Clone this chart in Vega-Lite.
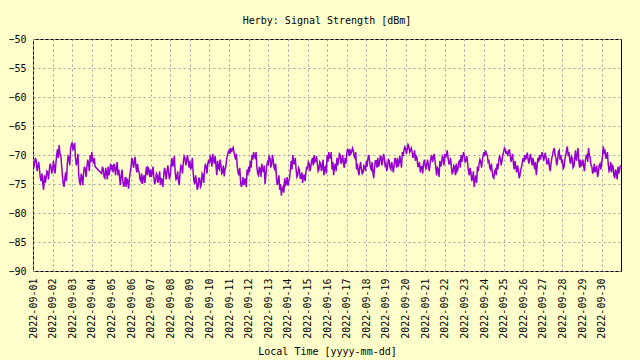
{
"$schema": "https://vega.github.io/schema/vega-lite/v6.json",
"width": 588, "height": 232,
"autosize": {"type": "none"},
"padding": {"left": 33, "top": 39, "right": 19, "bottom": 89},
"background": "#ffffcc",
"title": {"text": "Herby: Signal Strength [dBm]", "font": "DejaVu Sans Mono", "fontSize": 10, "fontWeight": "normal", "color": "black", "offset": 8, "anchor": "middle"},
"datasets": {"d": [
{"t":"2022-09-01T00:00","v":-71},{"t":"2022-09-01T02:00","v":-71.3},{"t":"2022-09-01T04:00","v":-71},{"t":"2022-09-01T06:00","v":-72},{"t":"2022-09-01T08:00","v":-72.5},{"t":"2022-09-01T10:00","v":-74.5},{"t":"2022-09-01T12:00","v":-75},{"t":"2022-09-01T14:00","v":-73.5},{"t":"2022-09-01T16:00","v":-74},{"t":"2022-09-01T18:00","v":-73},{"t":"2022-09-01T20:00","v":-72.5},{"t":"2022-09-01T22:00","v":-72},
{"t":"2022-09-02T00:00","v":-72.5},{"t":"2022-09-02T02:00","v":-72},{"t":"2022-09-02T04:00","v":-71.5},{"t":"2022-09-02T06:00","v":-69},{"t":"2022-09-02T08:00","v":-68.3},{"t":"2022-09-02T10:00","v":-70},{"t":"2022-09-02T12:00","v":-73.5},{"t":"2022-09-02T14:00","v":-75.5},{"t":"2022-09-02T16:00","v":-73},{"t":"2022-09-02T18:00","v":-71.5},{"t":"2022-09-02T20:00","v":-70.5},{"t":"2022-09-02T22:00","v":-69},
{"t":"2022-09-03T00:00","v":-67.8},{"t":"2022-09-03T02:00","v":-68.5},{"t":"2022-09-03T04:00","v":-70.5},{"t":"2022-09-03T06:00","v":-71},{"t":"2022-09-03T08:00","v":-73.5},{"t":"2022-09-03T10:00","v":-75},{"t":"2022-09-03T12:00","v":-74},{"t":"2022-09-03T14:00","v":-73},{"t":"2022-09-03T16:00","v":-72.5},{"t":"2022-09-03T18:00","v":-72},{"t":"2022-09-03T20:00","v":-71.5},{"t":"2022-09-03T22:00","v":-70},
{"t":"2022-09-04T00:00","v":-69.5},{"t":"2022-09-04T02:00","v":-71.5},{"t":"2022-09-04T04:00","v":-72},{"t":"2022-09-04T12:00","v":-73.2},{"t":"2022-09-04T14:00","v":-72.5},{"t":"2022-09-04T16:00","v":-74},{"t":"2022-09-04T18:00","v":-73},{"t":"2022-09-04T20:00","v":-72},{"t":"2022-09-04T22:00","v":-72.8},
{"t":"2022-09-05T00:00","v":-72.5},{"t":"2022-09-05T02:00","v":-73},{"t":"2022-09-05T04:00","v":-72},{"t":"2022-09-05T06:00","v":-72.2},{"t":"2022-09-05T08:00","v":-73.5},{"t":"2022-09-05T10:00","v":-74},{"t":"2022-09-05T12:00","v":-73.5},{"t":"2022-09-05T14:00","v":-74.5},{"t":"2022-09-05T16:00","v":-75},{"t":"2022-09-05T18:00","v":-75.5},{"t":"2022-09-05T20:00","v":-74.5},{"t":"2022-09-05T22:00","v":-74},
{"t":"2022-09-06T00:00","v":-72},{"t":"2022-09-06T02:00","v":-71},{"t":"2022-09-06T04:00","v":-71.3},{"t":"2022-09-06T06:00","v":-72},{"t":"2022-09-06T08:00","v":-71.5},{"t":"2022-09-06T10:00","v":-73},{"t":"2022-09-06T12:00","v":-74.5},{"t":"2022-09-06T14:00","v":-75},{"t":"2022-09-06T16:00","v":-73.5},{"t":"2022-09-06T18:00","v":-73},{"t":"2022-09-06T20:00","v":-73.5},{"t":"2022-09-06T22:00","v":-72.5},
{"t":"2022-09-07T00:00","v":-72.5},{"t":"2022-09-07T02:00","v":-73},{"t":"2022-09-07T04:00","v":-74},{"t":"2022-09-07T06:00","v":-74.5},{"t":"2022-09-07T08:00","v":-73.5},{"t":"2022-09-07T10:00","v":-74},{"t":"2022-09-07T12:00","v":-75.2},{"t":"2022-09-07T14:00","v":-74.5},{"t":"2022-09-07T16:00","v":-73.5},{"t":"2022-09-07T18:00","v":-73},{"t":"2022-09-07T20:00","v":-72.8},{"t":"2022-09-07T22:00","v":-73},
{"t":"2022-09-08T00:00","v":-73.5},{"t":"2022-09-08T02:00","v":-70.5},{"t":"2022-09-08T04:00","v":-71.5},{"t":"2022-09-08T06:00","v":-73},{"t":"2022-09-08T08:00","v":-74},{"t":"2022-09-08T10:00","v":-74.5},{"t":"2022-09-08T12:00","v":-73},{"t":"2022-09-08T14:00","v":-72},{"t":"2022-09-08T16:00","v":-71.2},{"t":"2022-09-08T18:00","v":-70.5},{"t":"2022-09-08T20:00","v":-71},{"t":"2022-09-08T22:00","v":-71},
{"t":"2022-09-09T00:00","v":-71},{"t":"2022-09-09T02:00","v":-72},{"t":"2022-09-09T04:00","v":-73},{"t":"2022-09-09T06:00","v":-75},{"t":"2022-09-09T08:00","v":-74.5},{"t":"2022-09-09T10:00","v":-75.5},{"t":"2022-09-09T12:00","v":-74},{"t":"2022-09-09T14:00","v":-75.2},{"t":"2022-09-09T16:00","v":-73.5},{"t":"2022-09-09T18:00","v":-72.5},{"t":"2022-09-09T20:00","v":-72},{"t":"2022-09-09T22:00","v":-71.5},
{"t":"2022-09-10T00:00","v":-71.5},{"t":"2022-09-10T02:00","v":-70.5},{"t":"2022-09-10T04:00","v":-69.8},{"t":"2022-09-10T06:00","v":-71.5},{"t":"2022-09-10T08:00","v":-72},{"t":"2022-09-10T10:00","v":-71},{"t":"2022-09-10T12:00","v":-72.5},{"t":"2022-09-10T14:00","v":-71.8},{"t":"2022-09-10T16:00","v":-73},{"t":"2022-09-10T18:00","v":-73.7},{"t":"2022-09-10T20:00","v":-72},{"t":"2022-09-10T22:00","v":-70},
{"t":"2022-09-11T00:00","v":-69.2},{"t":"2022-09-11T02:00","v":-68.8},{"t":"2022-09-11T04:00","v":-69},{"t":"2022-09-11T06:00","v":-69.5},{"t":"2022-09-11T08:00","v":-70.8},{"t":"2022-09-11T10:00","v":-72},{"t":"2022-09-11T12:00","v":-73.5},{"t":"2022-09-11T14:00","v":-74.5},{"t":"2022-09-11T16:00","v":-75},{"t":"2022-09-11T18:00","v":-75.2},{"t":"2022-09-11T20:00","v":-74},{"t":"2022-09-11T22:00","v":-72.5},
{"t":"2022-09-12T00:00","v":-72},{"t":"2022-09-12T02:00","v":-71},{"t":"2022-09-12T04:00","v":-70},{"t":"2022-09-12T06:00","v":-69.5},{"t":"2022-09-12T08:00","v":-70.5},{"t":"2022-09-12T10:00","v":-72},{"t":"2022-09-12T12:00","v":-73.5},{"t":"2022-09-12T14:00","v":-72.5},{"t":"2022-09-12T16:00","v":-71.5},{"t":"2022-09-12T18:00","v":-73},{"t":"2022-09-12T20:00","v":-75},{"t":"2022-09-12T22:00","v":-72},
{"t":"2022-09-13T00:00","v":-71.5},{"t":"2022-09-13T02:00","v":-70.5},{"t":"2022-09-13T04:00","v":-71.8},{"t":"2022-09-13T06:00","v":-70.8},{"t":"2022-09-13T08:00","v":-72.5},{"t":"2022-09-13T10:00","v":-74},{"t":"2022-09-13T12:00","v":-74.5},{"t":"2022-09-13T14:00","v":-76},{"t":"2022-09-13T16:00","v":-77},{"t":"2022-09-13T18:00","v":-75.5},{"t":"2022-09-13T20:00","v":-74},{"t":"2022-09-13T22:00","v":-75},
{"t":"2022-09-14T00:00","v":-75.3},{"t":"2022-09-14T02:00","v":-74},{"t":"2022-09-14T04:00","v":-71},{"t":"2022-09-14T06:00","v":-70},{"t":"2022-09-14T08:00","v":-71.5},{"t":"2022-09-14T10:00","v":-72.5},{"t":"2022-09-14T12:00","v":-73.5},{"t":"2022-09-14T14:00","v":-72.5},{"t":"2022-09-14T16:00","v":-74},{"t":"2022-09-14T18:00","v":-74.8},{"t":"2022-09-14T20:00","v":-73.5},{"t":"2022-09-14T22:00","v":-73},
{"t":"2022-09-15T00:00","v":-72.5},{"t":"2022-09-15T02:00","v":-71.5},{"t":"2022-09-15T04:00","v":-72},{"t":"2022-09-15T06:00","v":-70.5},{"t":"2022-09-15T08:00","v":-70},{"t":"2022-09-15T10:00","v":-71},{"t":"2022-09-15T12:00","v":-71.5},{"t":"2022-09-15T14:00","v":-72.5},{"t":"2022-09-15T16:00","v":-71.5},{"t":"2022-09-15T18:00","v":-72},{"t":"2022-09-15T20:00","v":-73.5},{"t":"2022-09-15T22:00","v":-72},
{"t":"2022-09-16T00:00","v":-70},{"t":"2022-09-16T02:00","v":-69.5},{"t":"2022-09-16T04:00","v":-70.5},{"t":"2022-09-16T06:00","v":-72.5},{"t":"2022-09-16T08:00","v":-73.5},{"t":"2022-09-16T10:00","v":-71.5},{"t":"2022-09-16T12:00","v":-70.5},{"t":"2022-09-16T14:00","v":-71},{"t":"2022-09-16T16:00","v":-70},{"t":"2022-09-16T18:00","v":-71},{"t":"2022-09-16T20:00","v":-71.5},{"t":"2022-09-16T22:00","v":-70.5},
{"t":"2022-09-17T00:00","v":-69.8},{"t":"2022-09-17T02:00","v":-69.3},{"t":"2022-09-17T04:00","v":-69},{"t":"2022-09-17T06:00","v":-69.5},{"t":"2022-09-17T08:00","v":-69.2},{"t":"2022-09-17T10:00","v":-70.5},{"t":"2022-09-17T12:00","v":-72.5},{"t":"2022-09-17T14:00","v":-72.8},{"t":"2022-09-17T16:00","v":-72},{"t":"2022-09-17T18:00","v":-72.5},{"t":"2022-09-17T20:00","v":-73},{"t":"2022-09-17T22:00","v":-72},
{"t":"2022-09-18T00:00","v":-71},{"t":"2022-09-18T02:00","v":-70.5},{"t":"2022-09-18T04:00","v":-71},{"t":"2022-09-18T06:00","v":-72.5},{"t":"2022-09-18T08:00","v":-73},{"t":"2022-09-18T10:00","v":-72.2},{"t":"2022-09-18T12:00","v":-71},{"t":"2022-09-18T14:00","v":-70.5},{"t":"2022-09-18T16:00","v":-71.5},{"t":"2022-09-18T18:00","v":-70.2},{"t":"2022-09-18T20:00","v":-71},{"t":"2022-09-18T22:00","v":-70.5},
{"t":"2022-09-19T00:00","v":-71.5},{"t":"2022-09-19T02:00","v":-72},{"t":"2022-09-19T04:00","v":-71},{"t":"2022-09-19T06:00","v":-72.5},{"t":"2022-09-19T08:00","v":-72},{"t":"2022-09-19T10:00","v":-71.8},{"t":"2022-09-19T12:00","v":-71},{"t":"2022-09-19T14:00","v":-70.5},{"t":"2022-09-19T16:00","v":-71.5},{"t":"2022-09-19T18:00","v":-71},{"t":"2022-09-19T20:00","v":-69.5},{"t":"2022-09-19T22:00","v":-69.2},
{"t":"2022-09-20T00:00","v":-68.8},{"t":"2022-09-20T02:00","v":-69},{"t":"2022-09-20T04:00","v":-68.5},{"t":"2022-09-20T06:00","v":-69.2},{"t":"2022-09-20T08:00","v":-69.5},{"t":"2022-09-20T10:00","v":-70},{"t":"2022-09-20T12:00","v":-71},{"t":"2022-09-20T14:00","v":-70.5},{"t":"2022-09-20T16:00","v":-72},{"t":"2022-09-20T18:00","v":-73},{"t":"2022-09-20T20:00","v":-72},{"t":"2022-09-20T22:00","v":-71.5},
{"t":"2022-09-21T00:00","v":-71.8},{"t":"2022-09-21T02:00","v":-71.5},{"t":"2022-09-21T04:00","v":-72},{"t":"2022-09-21T06:00","v":-71.5},{"t":"2022-09-21T08:00","v":-70},{"t":"2022-09-21T10:00","v":-70.5},{"t":"2022-09-21T12:00","v":-71},{"t":"2022-09-21T14:00","v":-73.5},{"t":"2022-09-21T16:00","v":-72.5},{"t":"2022-09-21T18:00","v":-71},{"t":"2022-09-21T20:00","v":-71.5},{"t":"2022-09-21T22:00","v":-70.5},
{"t":"2022-09-22T00:00","v":-69.8},{"t":"2022-09-22T02:00","v":-70},{"t":"2022-09-22T04:00","v":-70.5},{"t":"2022-09-22T06:00","v":-71.5},{"t":"2022-09-22T08:00","v":-72},{"t":"2022-09-22T10:00","v":-73},{"t":"2022-09-22T12:00","v":-72},{"t":"2022-09-22T14:00","v":-71.5},{"t":"2022-09-22T16:00","v":-72.5},{"t":"2022-09-22T18:00","v":-71},{"t":"2022-09-22T20:00","v":-70},{"t":"2022-09-22T22:00","v":-70.2},
{"t":"2022-09-23T00:00","v":-70.2},{"t":"2022-09-23T02:00","v":-71},{"t":"2022-09-23T04:00","v":-71.5},{"t":"2022-09-23T06:00","v":-73.5},{"t":"2022-09-23T08:00","v":-73},{"t":"2022-09-23T10:00","v":-74},{"t":"2022-09-23T12:00","v":-75.5},{"t":"2022-09-23T14:00","v":-73.5},{"t":"2022-09-23T16:00","v":-72},{"t":"2022-09-23T18:00","v":-71.5},{"t":"2022-09-23T20:00","v":-71.2},{"t":"2022-09-23T22:00","v":-70.8},
{"t":"2022-09-24T00:00","v":-69.5},{"t":"2022-09-24T02:00","v":-69.2},{"t":"2022-09-24T04:00","v":-70},{"t":"2022-09-24T06:00","v":-71},{"t":"2022-09-24T08:00","v":-72.5},{"t":"2022-09-24T10:00","v":-72.8},{"t":"2022-09-24T12:00","v":-74},{"t":"2022-09-24T14:00","v":-72.5},{"t":"2022-09-24T16:00","v":-71.5},{"t":"2022-09-24T18:00","v":-71},{"t":"2022-09-24T20:00","v":-70.5},{"t":"2022-09-24T22:00","v":-71},
{"t":"2022-09-25T00:00","v":-69.5},{"t":"2022-09-25T02:00","v":-69},{"t":"2022-09-25T04:00","v":-69.3},{"t":"2022-09-25T06:00","v":-69.5},{"t":"2022-09-25T08:00","v":-70},{"t":"2022-09-25T10:00","v":-70.5},{"t":"2022-09-25T12:00","v":-71.5},{"t":"2022-09-25T14:00","v":-71},{"t":"2022-09-25T16:00","v":-73},{"t":"2022-09-25T18:00","v":-72.5},{"t":"2022-09-25T20:00","v":-73.5},{"t":"2022-09-25T22:00","v":-72},
{"t":"2022-09-26T00:00","v":-70.5},{"t":"2022-09-26T02:00","v":-70},{"t":"2022-09-26T04:00","v":-70.3},{"t":"2022-09-26T06:00","v":-70.8},{"t":"2022-09-26T08:00","v":-70.5},{"t":"2022-09-26T10:00","v":-71},{"t":"2022-09-26T12:00","v":-70.5},{"t":"2022-09-26T14:00","v":-72.5},{"t":"2022-09-26T16:00","v":-73.5},{"t":"2022-09-26T18:00","v":-70.5},{"t":"2022-09-26T20:00","v":-70},{"t":"2022-09-26T22:00","v":-70.2},
{"t":"2022-09-27T00:00","v":-70},{"t":"2022-09-27T02:00","v":-70.3},{"t":"2022-09-27T04:00","v":-70.5},{"t":"2022-09-27T06:00","v":-71.5},{"t":"2022-09-27T08:00","v":-72},{"t":"2022-09-27T10:00","v":-71.5},{"t":"2022-09-27T12:00","v":-70},{"t":"2022-09-27T14:00","v":-68.8},{"t":"2022-09-27T16:00","v":-70.5},{"t":"2022-09-27T18:00","v":-71},{"t":"2022-09-27T20:00","v":-69.2},{"t":"2022-09-27T22:00","v":-70},
{"t":"2022-09-28T00:00","v":-71},{"t":"2022-09-28T02:00","v":-72},{"t":"2022-09-28T04:00","v":-70},{"t":"2022-09-28T06:00","v":-68.5},{"t":"2022-09-28T08:00","v":-69.5},{"t":"2022-09-28T10:00","v":-71.5},{"t":"2022-09-28T12:00","v":-70.5},{"t":"2022-09-28T14:00","v":-72},{"t":"2022-09-28T16:00","v":-69.2},{"t":"2022-09-28T18:00","v":-70.2},{"t":"2022-09-28T20:00","v":-71},{"t":"2022-09-28T22:00","v":-70.8},
{"t":"2022-09-29T00:00","v":-71.5},{"t":"2022-09-29T02:00","v":-72},{"t":"2022-09-29T04:00","v":-71},{"t":"2022-09-29T06:00","v":-70},{"t":"2022-09-29T08:00","v":-68.8},{"t":"2022-09-29T10:00","v":-70.5},{"t":"2022-09-29T12:00","v":-72},{"t":"2022-09-29T14:00","v":-72.8},{"t":"2022-09-29T16:00","v":-73},{"t":"2022-09-29T18:00","v":-72},{"t":"2022-09-29T20:00","v":-73},{"t":"2022-09-29T22:00","v":-71.5},
{"t":"2022-09-30T00:00","v":-71.5},{"t":"2022-09-30T02:00","v":-68.5},{"t":"2022-09-30T04:00","v":-69},{"t":"2022-09-30T06:00","v":-70.5},{"t":"2022-09-30T08:00","v":-71.5},{"t":"2022-09-30T10:00","v":-72.5},{"t":"2022-09-30T12:00","v":-73},{"t":"2022-09-30T14:00","v":-72},{"t":"2022-09-30T16:00","v":-74},{"t":"2022-09-30T18:00","v":-73},{"t":"2022-09-30T20:00","v":-72},{"t":"2022-09-30T22:00","v":-72.5},
{"t":"2022-09-01T01:00","v":-72.3},{"t":"2022-09-01T03:00","v":-70.5},{"t":"2022-09-01T05:00","v":-72.8},{"t":"2022-09-01T07:00","v":-71.2},{"t":"2022-09-01T09:00","v":-74},{"t":"2022-09-01T11:00","v":-73.2},{"t":"2022-09-01T13:00","v":-76},{"t":"2022-09-01T15:00","v":-74.8},{"t":"2022-09-01T17:00","v":-72.8},{"t":"2022-09-01T19:00","v":-74.2},{"t":"2022-09-01T21:00","v":-71.5},{"t":"2022-09-01T23:00","v":-73.2},
{"t":"2022-09-02T01:00","v":-71},{"t":"2022-09-02T03:00","v":-73.2},{"t":"2022-09-02T05:00","v":-70},{"t":"2022-09-02T07:00","v":-70.5},{"t":"2022-09-02T09:00","v":-69.8},{"t":"2022-09-02T11:00","v":-71.8},{"t":"2022-09-02T13:00","v":-75},{"t":"2022-09-02T15:00","v":-74},{"t":"2022-09-02T17:00","v":-74.5},{"t":"2022-09-02T19:00","v":-70.2},{"t":"2022-09-02T21:00","v":-71.8},{"t":"2022-09-02T23:00","v":-68.2},
{"t":"2022-09-03T01:00","v":-69.2},{"t":"2022-09-03T03:00","v":-67.9},{"t":"2022-09-03T05:00","v":-71.8},{"t":"2022-09-03T07:00","v":-69.8},{"t":"2022-09-03T09:00","v":-74.8},{"t":"2022-09-03T11:00","v":-73.2},{"t":"2022-09-03T13:00","v":-75.2},{"t":"2022-09-03T15:00","v":-72},{"t":"2022-09-03T17:00","v":-73.8},{"t":"2022-09-03T19:00","v":-70.8},{"t":"2022-09-03T21:00","v":-72.8},{"t":"2022-09-03T23:00","v":-71.2},
{"t":"2022-09-04T01:00","v":-70.8},{"t":"2022-09-04T03:00","v":-70.5},{"t":"2022-09-04T13:00","v":-72},{"t":"2022-09-04T15:00","v":-73.8},{"t":"2022-09-04T17:00","v":-72.2},{"t":"2022-09-04T19:00","v":-74.2},{"t":"2022-09-04T21:00","v":-73.5},{"t":"2022-09-04T23:00","v":-71.5},
{"t":"2022-09-05T01:00","v":-71.8},{"t":"2022-09-05T03:00","v":-71.5},{"t":"2022-09-05T05:00","v":-73.5},{"t":"2022-09-05T07:00","v":-71.2},{"t":"2022-09-05T09:00","v":-72.5},{"t":"2022-09-05T11:00","v":-75.2},{"t":"2022-09-05T13:00","v":-72.5},{"t":"2022-09-05T15:00","v":-75.5},{"t":"2022-09-05T17:00","v":-73.8},{"t":"2022-09-05T19:00","v":-74.2},{"t":"2022-09-05T21:00","v":-75.8},{"t":"2022-09-05T23:00","v":-73},
{"t":"2022-09-06T01:00","v":-70.5},{"t":"2022-09-06T03:00","v":-72.2},{"t":"2022-09-06T05:00","v":-70.3},{"t":"2022-09-06T07:00","v":-73},{"t":"2022-09-06T09:00","v":-72.8},{"t":"2022-09-06T11:00","v":-74.2},{"t":"2022-09-06T13:00","v":-73.2},{"t":"2022-09-06T15:00","v":-74},{"t":"2022-09-06T17:00","v":-74.8},{"t":"2022-09-06T19:00","v":-72},{"t":"2022-09-06T21:00","v":-72.2},{"t":"2022-09-06T23:00","v":-73.8},
{"t":"2022-09-07T01:00","v":-73.8},{"t":"2022-09-07T03:00","v":-72},{"t":"2022-09-07T05:00","v":-75},{"t":"2022-09-07T07:00","v":-73.2},{"t":"2022-09-07T09:00","v":-74.8},{"t":"2022-09-07T11:00","v":-72.8},{"t":"2022-09-07T13:00","v":-74},{"t":"2022-09-07T15:00","v":-75.5},{"t":"2022-09-07T17:00","v":-72.2},{"t":"2022-09-07T19:00","v":-74.2},{"t":"2022-09-07T21:00","v":-71.8},{"t":"2022-09-07T23:00","v":-74.2},
{"t":"2022-09-08T01:00","v":-71.8},{"t":"2022-09-08T03:00","v":-72},{"t":"2022-09-08T05:00","v":-70.2},{"t":"2022-09-08T07:00","v":-74.2},{"t":"2022-09-08T09:00","v":-72.8},{"t":"2022-09-08T11:00","v":-75.2},{"t":"2022-09-08T13:00","v":-71.8},{"t":"2022-09-08T15:00","v":-73.2},{"t":"2022-09-08T17:00","v":-70.2},{"t":"2022-09-08T19:00","v":-71.8},{"t":"2022-09-08T21:00","v":-70},{"t":"2022-09-08T23:00","v":-72.2},
{"t":"2022-09-09T01:00","v":-72.5},{"t":"2022-09-09T03:00","v":-70.5},{"t":"2022-09-09T05:00","v":-74.5},{"t":"2022-09-09T07:00","v":-73.5},{"t":"2022-09-09T09:00","v":-76},{"t":"2022-09-09T11:00","v":-74},{"t":"2022-09-09T13:00","v":-75.5},{"t":"2022-09-09T15:00","v":-73.2},{"t":"2022-09-09T17:00","v":-74.8},{"t":"2022-09-09T19:00","v":-71.5},{"t":"2022-09-09T21:00","v":-73.2},{"t":"2022-09-09T23:00","v":-70.8},
{"t":"2022-09-10T01:00","v":-70.2},{"t":"2022-09-10T03:00","v":-72},{"t":"2022-09-10T05:00","v":-70.8},{"t":"2022-09-10T07:00","v":-70.2},{"t":"2022-09-10T09:00","v":-73.5},{"t":"2022-09-10T11:00","v":-72.2},{"t":"2022-09-10T13:00","v":-70.8},{"t":"2022-09-10T15:00","v":-73.2},{"t":"2022-09-10T17:00","v":-71.8},{"t":"2022-09-10T19:00","v":-72.5},{"t":"2022-09-10T21:00","v":-70.8},{"t":"2022-09-10T23:00","v":-69.5},
{"t":"2022-09-11T01:00","v":-69.8},{"t":"2022-09-11T03:00","v":-69.5},{"t":"2022-09-11T05:00","v":-68.7},{"t":"2022-09-11T07:00","v":-70.2},{"t":"2022-09-11T09:00","v":-69.8},{"t":"2022-09-11T11:00","v":-73},{"t":"2022-09-11T13:00","v":-72.2},{"t":"2022-09-11T15:00","v":-75.5},{"t":"2022-09-11T17:00","v":-73.8},{"t":"2022-09-11T19:00","v":-74.5},{"t":"2022-09-11T21:00","v":-75.5},{"t":"2022-09-11T23:00","v":-73.5},
{"t":"2022-09-12T01:00","v":-73},{"t":"2022-09-12T03:00","v":-72.2},{"t":"2022-09-12T05:00","v":-70.8},{"t":"2022-09-12T07:00","v":-70.3},{"t":"2022-09-12T09:00","v":-69.5},{"t":"2022-09-12T11:00","v":-73.2},{"t":"2022-09-12T13:00","v":-72},{"t":"2022-09-12T15:00","v":-73.8},{"t":"2022-09-12T17:00","v":-72.5},{"t":"2022-09-12T19:00","v":-71.8},{"t":"2022-09-12T21:00","v":-73.5},{"t":"2022-09-12T23:00","v":-71.2},
{"t":"2022-09-13T01:00","v":-70.2},{"t":"2022-09-13T03:00","v":-72},{"t":"2022-09-13T05:00","v":-70},{"t":"2022-09-13T07:00","v":-72.2},{"t":"2022-09-13T09:00","v":-71.5},{"t":"2022-09-13T11:00","v":-75.2},{"t":"2022-09-13T13:00","v":-73.5},{"t":"2022-09-13T15:00","v":-75},{"t":"2022-09-13T17:00","v":-75.8},{"t":"2022-09-13T19:00","v":-76.5},{"t":"2022-09-13T21:00","v":-75.2},{"t":"2022-09-13T23:00","v":-73.8},
{"t":"2022-09-14T01:00","v":-74.5},{"t":"2022-09-14T03:00","v":-72.5},{"t":"2022-09-14T05:00","v":-72.5},{"t":"2022-09-14T07:00","v":-71.5},{"t":"2022-09-14T09:00","v":-70.5},{"t":"2022-09-14T11:00","v":-73.8},{"t":"2022-09-14T13:00","v":-72.2},{"t":"2022-09-14T15:00","v":-74},{"t":"2022-09-14T17:00","v":-73},{"t":"2022-09-14T19:00","v":-73.5},{"t":"2022-09-14T21:00","v":-74.5},{"t":"2022-09-14T23:00","v":-72},
{"t":"2022-09-15T01:00","v":-71.2},{"t":"2022-09-15T03:00","v":-72.8},{"t":"2022-09-15T05:00","v":-71},{"t":"2022-09-15T07:00","v":-71.8},{"t":"2022-09-15T09:00","v":-71.2},{"t":"2022-09-15T11:00","v":-70.2},{"t":"2022-09-15T13:00","v":-72.8},{"t":"2022-09-15T15:00","v":-71.2},{"t":"2022-09-15T17:00","v":-72.8},{"t":"2022-09-15T19:00","v":-70.8},{"t":"2022-09-15T21:00","v":-72.2},{"t":"2022-09-15T23:00","v":-73.2},
{"t":"2022-09-16T01:00","v":-71.2},{"t":"2022-09-16T03:00","v":-70.5},{"t":"2022-09-16T05:00","v":-69.5},{"t":"2022-09-16T07:00","v":-71.2},{"t":"2022-09-16T09:00","v":-72},{"t":"2022-09-16T11:00","v":-72.8},{"t":"2022-09-16T13:00","v":-71.8},{"t":"2022-09-16T15:00","v":-69.8},{"t":"2022-09-16T17:00","v":-71.5},{"t":"2022-09-16T19:00","v":-70},{"t":"2022-09-16T21:00","v":-72.2},{"t":"2022-09-16T23:00","v":-71.5},
{"t":"2022-09-17T01:00","v":-68.9},{"t":"2022-09-17T03:00","v":-70.2},{"t":"2022-09-17T05:00","v":-69.8},{"t":"2022-09-17T07:00","v":-68.8},{"t":"2022-09-17T09:00","v":-70.2},{"t":"2022-09-17T11:00","v":-69.5},{"t":"2022-09-17T13:00","v":-71.5},{"t":"2022-09-17T15:00","v":-73.5},{"t":"2022-09-17T17:00","v":-71.2},{"t":"2022-09-17T19:00","v":-73.2},{"t":"2022-09-17T21:00","v":-71.8},{"t":"2022-09-17T23:00","v":-72.8},
{"t":"2022-09-18T01:00","v":-72},{"t":"2022-09-18T03:00","v":-70},{"t":"2022-09-18T05:00","v":-72.2},{"t":"2022-09-18T07:00","v":-71.2},{"t":"2022-09-18T09:00","v":-74},{"t":"2022-09-18T11:00","v":-71},{"t":"2022-09-18T13:00","v":-72.2},{"t":"2022-09-18T15:00","v":-72},{"t":"2022-09-18T17:00","v":-70.2},{"t":"2022-09-18T19:00","v":-71.8},{"t":"2022-09-18T21:00","v":-69.8},{"t":"2022-09-18T23:00","v":-71.8},
{"t":"2022-09-19T01:00","v":-72.8},{"t":"2022-09-19T03:00","v":-70.8},{"t":"2022-09-19T05:00","v":-72.2},{"t":"2022-09-19T07:00","v":-71.2},{"t":"2022-09-19T09:00","v":-73},{"t":"2022-09-19T11:00","v":-70.5},{"t":"2022-09-19T13:00","v":-72.2},{"t":"2022-09-19T15:00","v":-72},{"t":"2022-09-19T17:00","v":-70.2},{"t":"2022-09-19T19:00","v":-72.2},{"t":"2022-09-19T21:00","v":-70.2},{"t":"2022-09-19T23:00","v":-68.6},
{"t":"2022-09-20T01:00","v":-69.8},{"t":"2022-09-20T03:00","v":-68.2},{"t":"2022-09-20T05:00","v":-69.5},{"t":"2022-09-20T07:00","v":-68.8},{"t":"2022-09-20T09:00","v":-70.5},{"t":"2022-09-20T11:00","v":-69.2},{"t":"2022-09-20T13:00","v":-70.2},{"t":"2022-09-20T15:00","v":-72},{"t":"2022-09-20T17:00","v":-71.2},{"t":"2022-09-20T19:00","v":-72},{"t":"2022-09-20T21:00","v":-73.2},{"t":"2022-09-20T23:00","v":-70.8},
{"t":"2022-09-21T01:00","v":-72.5},{"t":"2022-09-21T03:00","v":-70.8},{"t":"2022-09-21T05:00","v":-72.8},{"t":"2022-09-21T07:00","v":-70.5},{"t":"2022-09-21T09:00","v":-71.2},{"t":"2022-09-21T11:00","v":-69.8},{"t":"2022-09-21T13:00","v":-72.2},{"t":"2022-09-21T15:00","v":-72.2},{"t":"2022-09-21T17:00","v":-73.8},{"t":"2022-09-21T19:00","v":-72},{"t":"2022-09-21T21:00","v":-70.2},{"t":"2022-09-21T23:00","v":-71.8},
{"t":"2022-09-22T01:00","v":-70.5},{"t":"2022-09-22T03:00","v":-69.2},{"t":"2022-09-22T05:00","v":-71.5},{"t":"2022-09-22T07:00","v":-70.5},{"t":"2022-09-22T09:00","v":-73.2},{"t":"2022-09-22T11:00","v":-71.8},{"t":"2022-09-22T13:00","v":-73.5},{"t":"2022-09-22T15:00","v":-72.8},{"t":"2022-09-22T17:00","v":-71.2},{"t":"2022-09-22T19:00","v":-72.2},{"t":"2022-09-22T21:00","v":-71.2},{"t":"2022-09-22T23:00","v":-69.5},
{"t":"2022-09-23T01:00","v":-71.2},{"t":"2022-09-23T03:00","v":-70.2},{"t":"2022-09-23T05:00","v":-72.8},{"t":"2022-09-23T07:00","v":-72.2},{"t":"2022-09-23T09:00","v":-74.5},{"t":"2022-09-23T11:00","v":-72.8},{"t":"2022-09-23T13:00","v":-74.2},{"t":"2022-09-23T15:00","v":-74.8},{"t":"2022-09-23T17:00","v":-72.8},{"t":"2022-09-23T19:00","v":-70.8},{"t":"2022-09-23T21:00","v":-72.2},{"t":"2022-09-23T23:00","v":-70},
{"t":"2022-09-24T01:00","v":-70.2},{"t":"2022-09-24T03:00","v":-69.8},{"t":"2022-09-24T05:00","v":-71.2},{"t":"2022-09-24T07:00","v":-72.2},{"t":"2022-09-24T09:00","v":-71.5},{"t":"2022-09-24T11:00","v":-73.8},{"t":"2022-09-24T13:00","v":-72.8},{"t":"2022-09-24T15:00","v":-73.5},{"t":"2022-09-24T17:00","v":-72.5},{"t":"2022-09-24T19:00","v":-70.2},{"t":"2022-09-24T21:00","v":-71.8},{"t":"2022-09-24T23:00","v":-70},
{"t":"2022-09-25T01:00","v":-68.8},{"t":"2022-09-25T03:00","v":-69.8},{"t":"2022-09-25T05:00","v":-70.2},{"t":"2022-09-25T07:00","v":-69},{"t":"2022-09-25T09:00","v":-71.2},{"t":"2022-09-25T11:00","v":-69.8},{"t":"2022-09-25T13:00","v":-72.5},{"t":"2022-09-25T15:00","v":-72.2},{"t":"2022-09-25T17:00","v":-71.8},{"t":"2022-09-25T19:00","v":-74},{"t":"2022-09-25T21:00","v":-72.5},{"t":"2022-09-25T23:00","v":-71.2},
{"t":"2022-09-26T01:00","v":-71.2},{"t":"2022-09-26T03:00","v":-70.8},{"t":"2022-09-26T05:00","v":-69.6},{"t":"2022-09-26T07:00","v":-71.5},{"t":"2022-09-26T09:00","v":-69.8},{"t":"2022-09-26T11:00","v":-71.8},{"t":"2022-09-26T13:00","v":-71.5},{"t":"2022-09-26T15:00","v":-71.2},{"t":"2022-09-26T17:00","v":-72},{"t":"2022-09-26T19:00","v":-71.2},{"t":"2022-09-26T21:00","v":-70.8},{"t":"2022-09-26T23:00","v":-69.5},
{"t":"2022-09-27T01:00","v":-71},{"t":"2022-09-27T03:00","v":-69.6},{"t":"2022-09-27T05:00","v":-71.5},{"t":"2022-09-27T07:00","v":-70.5},{"t":"2022-09-27T09:00","v":-72.8},{"t":"2022-09-27T11:00","v":-70.5},{"t":"2022-09-27T13:00","v":-69.2},{"t":"2022-09-27T15:00","v":-70},{"t":"2022-09-27T17:00","v":-71.8},{"t":"2022-09-27T19:00","v":-69.5},{"t":"2022-09-27T21:00","v":-70.8},{"t":"2022-09-27T23:00","v":-71.2},
{"t":"2022-09-28T01:00","v":-72.5},{"t":"2022-09-28T03:00","v":-70.8},{"t":"2022-09-28T05:00","v":-69.2},{"t":"2022-09-28T07:00","v":-70.2},{"t":"2022-09-28T09:00","v":-71},{"t":"2022-09-28T11:00","v":-70.2},{"t":"2022-09-28T13:00","v":-72.2},{"t":"2022-09-28T15:00","v":-70.5},{"t":"2022-09-28T17:00","v":-71},{"t":"2022-09-28T19:00","v":-68.8},{"t":"2022-09-28T21:00","v":-72.2},{"t":"2022-09-28T23:00","v":-71.8},
{"t":"2022-09-29T01:00","v":-70.8},{"t":"2022-09-29T03:00","v":-72.8},{"t":"2022-09-29T05:00","v":-70.2},{"t":"2022-09-29T07:00","v":-71.2},{"t":"2022-09-29T09:00","v":-70},{"t":"2022-09-29T11:00","v":-71.8},{"t":"2022-09-29T13:00","v":-73.2},{"t":"2022-09-29T15:00","v":-71.5},{"t":"2022-09-29T17:00","v":-72.2},{"t":"2022-09-29T19:00","v":-73.8},{"t":"2022-09-29T21:00","v":-71.8},{"t":"2022-09-29T23:00","v":-72.5},
{"t":"2022-09-30T01:00","v":-70.2},{"t":"2022-09-30T03:00","v":-69.8},{"t":"2022-09-30T05:00","v":-70.5},{"t":"2022-09-30T07:00","v":-69.5},{"t":"2022-09-30T09:00","v":-72.8},{"t":"2022-09-30T11:00","v":-71.2},{"t":"2022-09-30T13:00","v":-71.8},{"t":"2022-09-30T15:00","v":-73.5},{"t":"2022-09-30T17:00","v":-72.5},{"t":"2022-09-30T19:00","v":-74.2},{"t":"2022-09-30T21:00","v":-73.2},{"t":"2022-09-30T23:00","v":-71.8}
]},
"data": {"name": "d"},
"mark": {"type": "line", "color": "#9400d3", "strokeWidth": 1.5, "clip": true},
"encoding": {
  "x": {"field": "t", "type": "temporal",
    "scale": {"domain": [{"year": 2022, "month": 9, "date": 1}, {"year": 2022, "month": 9, "date": 30, "hours": 23, "minutes": 40}], "nice": false},
    "axis": {"format": "%Y-%m-%d", "labelAngle": -90, "tickCount": {"interval": "day", "step": 1}, "title": "Local Time [yyyy-mm-dd]", "labelPadding": 7, "titlePadding": 8, "labelOverlap": false, "labelFlush": false, "labelBound": false}},
  "y": {"field": "v", "type": "quantitative",
    "scale": {"domain": [-90, -50], "nice": false, "zero": false},
    "axis": {"values": [-90, -85, -80, -75, -70, -65, -60, -55, -50], "title": null, "labelPadding": 7}}
},
"config": {
  "view": {"stroke": "black", "strokeWidth": 1},
  "axis": {"domain": false, "ticks": false, "grid": true, "gridColor": "#a0a0a0", "gridDash": [2, 3], "gridWidth": 1, "gridOpacity": 1,
    "labelFont": "DejaVu Sans Mono", "labelFontSize": 10, "labelColor": "black",
    "titleFont": "DejaVu Sans Mono", "titleFontSize": 10, "titleFontWeight": "normal", "titleColor": "black"}
}
}
